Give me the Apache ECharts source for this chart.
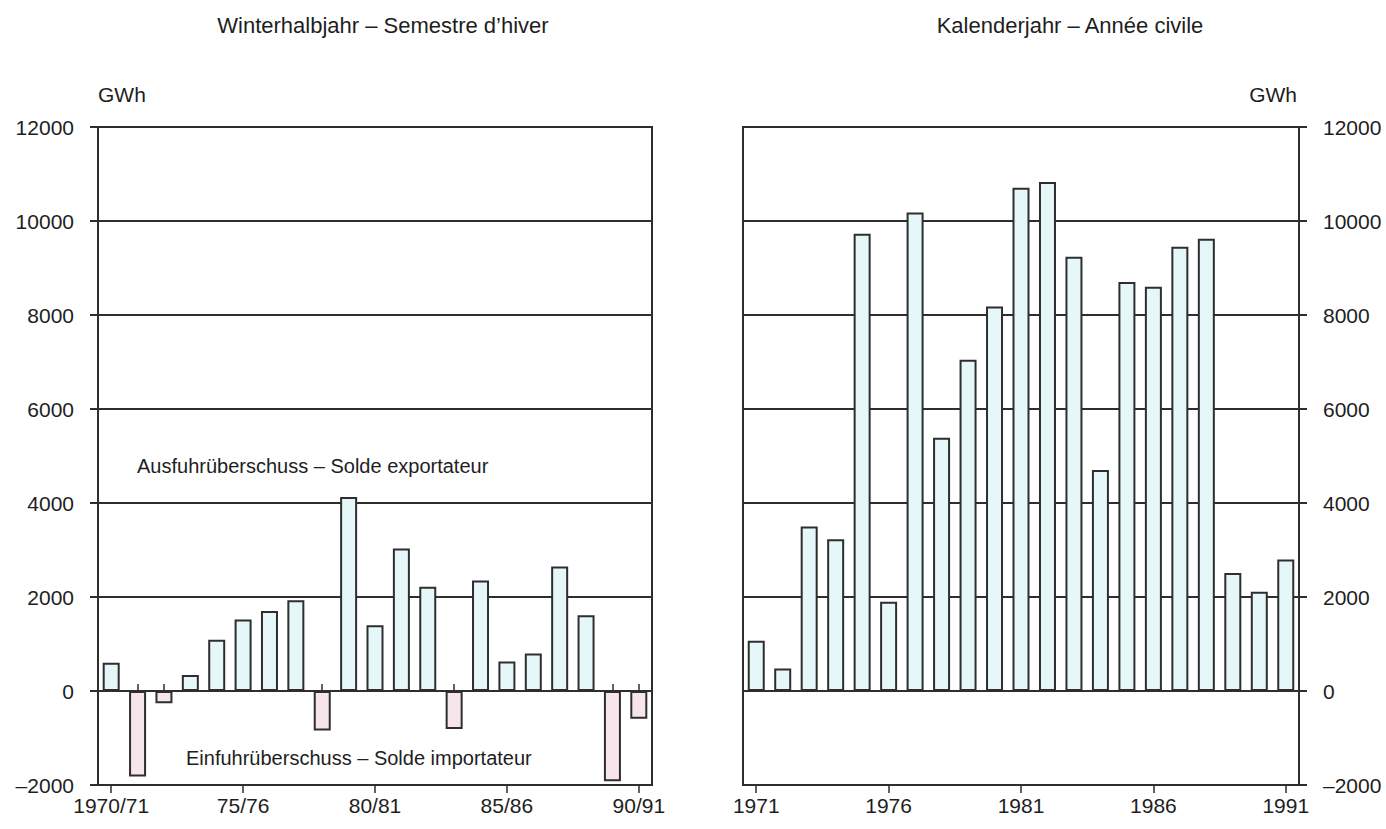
<!DOCTYPE html>
<html>
<head>
<meta charset="utf-8">
<script src="https://cdn.jsdelivr.net/npm/echarts@6/dist/echarts.min.js"></script>
<style>
html,body{margin:0;padding:0;background:#fff;}
#chart{width:1386px;height:829px;}
</style>
</head>
<body>
<div id="chart"></div>
<script>
// ---- Data ----
const winterCategories = ['1970/71','71/72','72/73','73/74','74/75','75/76','76/77','77/78','78/79','79/80','80/81','81/82','82/83','83/84','84/85','85/86','86/87','87/88','88/89','89/90','90/91'];
const winterValues = [600, -1820, -260, 340, 1090, 1520, 1700, 1930, -840, 4130, 1400, 3030, 2220, -810, 2350, 630, 800, 2650, 1610, -1920, -590];

const yearCategories = ['1971','1972','1973','1974','1975','1976','1977','1978','1979','1980','1981','1982','1983','1984','1985','1986','1987','1988','1989','1990','1991'];
const yearValues = [1070, 480, 3500, 3230, 9730, 1900, 10180, 5390, 7050, 8180, 10710, 10830, 9240, 4700, 8700, 8600, 9450, 9620, 2510, 2110, 2800];

const yTicks = { min: -2000, max: 12000, interval: 2000 };

const titles = ['Winterhalbjahr – Semestre d’hiver', 'Kalenderjahr – Année civile'];
const unit = 'GWh';
const exportLabel = 'Ausfuhrüberschuss – Solde exportateur';
const importLabel = 'Einfuhrüberschuss – Solde importateur';

// ---- Styles ----
const FONT = '"Liberation Sans", Arial, Helvetica, sans-serif';
const LINE = '#2e2e2e';
const TEXT = '#1e1e1e';
const POS = '#e6f7fa';
const NEG = '#f6e6ec';
const LW = 2;

const chart = echarts.init(document.getElementById('chart'), null, { renderer: 'svg' });

function yLabel(v) { return v < 0 ? '–' + Math.abs(v) : String(v); }

function makeY(gridIndex, position) {
  return {
    type: 'value', gridIndex, position,
    min: yTicks.min, max: yTicks.max, interval: yTicks.interval,
    axisLine: { show: true, lineStyle: { color: LINE, width: LW } },
    axisTick: { show: true, length: 8, lineStyle: { color: LINE, width: LW } },
    axisLabel: { margin: 24, color: TEXT, fontSize: 21, fontFamily: FONT, formatter: yLabel },
    splitLine: { show: true, lineStyle: { color: LINE, width: LW } }
  };
}
function makeXMinor(gridIndex, cats) {
  return {
    type: 'category', gridIndex, data: cats, position: 'bottom', boundaryGap: true,
    axisLine: { show: true, lineStyle: { color: LINE, width: LW } },
    axisTick: { show: true, alignWithLabel: true, interval: 0, inside: true, length: 7, lineStyle: { color: LINE, width: 1.5 } },
    axisLabel: { interval: 4, margin: 10, color: TEXT, fontSize: 21, fontFamily: FONT },
    splitLine: { show: false }
  };
}
function makeXMajor(gridIndex, cats) {
  return {
    type: 'category', gridIndex, data: cats, position: 'bottom', boundaryGap: true,
    axisLine: { show: false },
    axisTick: { show: true, alignWithLabel: true, interval: 4, inside: false, length: 8, lineStyle: { color: LINE, width: 1.5 } },
    axisLabel: { show: false },
    splitLine: { show: false }
  };
}

const barStyle = {
  borderColor: LINE, borderWidth: LW,
  color: p => (p.value < 0 ? NEG : POS)
};

const option = {
  backgroundColor: '#fff',
  animation: false,
  title: [
    { text: titles[0], left: 378, top: 9, textAlign: 'center',
      textStyle: { fontFamily: FONT, fontSize: 22, fontWeight: 'normal', color: TEXT } },
    { text: titles[1], left: 1065, top: 9, textAlign: 'center',
      textStyle: { fontFamily: FONT, fontSize: 22, fontWeight: 'normal', color: TEXT } }
  ],
  grid: [
    { left: 98, top: 127, width: 554, height: 658, show: true, borderColor: LINE, borderWidth: LW, outerBoundsMode: 'none', containLabel: false },
    { left: 743, top: 127, width: 556, height: 658, show: true, borderColor: LINE, borderWidth: LW, outerBoundsMode: 'none', containLabel: false }
  ],
  xAxis: [
    makeXMinor(0, winterCategories),
    makeXMajor(0, winterCategories),
    makeXMinor(1, yearCategories),
    makeXMajor(1, yearCategories)
  ],
  yAxis: [
    makeY(0, 'left'),
    makeY(1, 'right')
  ],
  series: [
    { type: 'bar', xAxisIndex: 0, yAxisIndex: 0, data: winterValues, barWidth: 17, itemStyle: barStyle, z: 3 },
    { type: 'bar', xAxisIndex: 2, yAxisIndex: 1, data: yearValues, barWidth: 17, itemStyle: barStyle, z: 3 }
  ],
  graphic: [
    { type: 'text', left: 98, top: 84, style: { text: unit, font: '21px ' + FONT, fill: TEXT } },
    { type: 'text', right: 89, top: 84, style: { text: unit, font: '21px ' + FONT, fill: TEXT } },
    { type: 'text', left: 137, top: 456, style: { text: exportLabel, font: '20px ' + FONT, fill: TEXT } },
    { type: 'text', left: 186, top: 748, style: { text: importLabel, font: '20px ' + FONT, fill: TEXT } }
  ]
};
chart.setOption(option);
</script>
</body>
</html>
